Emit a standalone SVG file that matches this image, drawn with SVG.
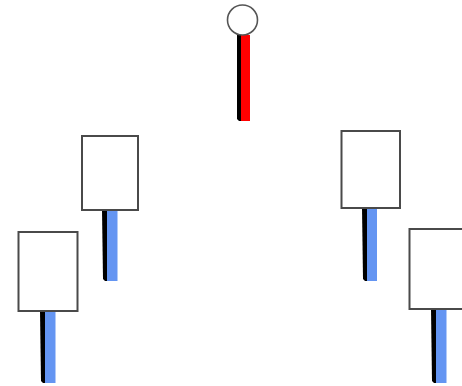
<svg xmlns="http://www.w3.org/2000/svg" width="462" height="386" viewBox="0 0 462 386">
<style>
.box{fill:#ffffff;stroke:#4a4a4a;stroke-width:2}
.side{fill:#000000}
.blue{fill:#6495f2}
.red{fill:#ff0000}
.circ{fill:#ffffff;stroke:#555555;stroke-width:1.6}
</style>
<rect width="462" height="386" fill="#ffffff"/>
<g id="connectors"></g>
<g id="root">
<path class="side" d="M237,35 L241,35 L241,121 L239,121 L237,119 Z"/>
<rect class="red" x="241" y="35" width="9" height="86"/>
<circle class="circ" cx="242.5" cy="20" r="15"/>
</g>
<g id="node-upper-left">
<path class="side" d="M102,210 L107,210 L107,281 L105,281 L103,279 Z"/>
<rect class="blue" x="107" y="210" width="10.5" height="71"/>
<rect class="box" x="82" y="136" width="56" height="74"/>
</g>
<g id="node-lower-left">
<path class="side" d="M40,311 L45,311 L45,383 L43,383 L41,381 Z"/>
<rect class="blue" x="45" y="311" width="10.5" height="72"/>
<rect class="box" x="18.5" y="232" width="59" height="79"/>
</g>
<g id="node-upper-right">
<path class="side" d="M362,208 L367,208 L367,281 L365,281 L363,279 Z"/>
<rect class="blue" x="367" y="208" width="10" height="73"/>
<rect class="box" x="341.5" y="131" width="58.5" height="77"/>
</g>
<g id="node-lower-right">
<path class="side" d="M431,309 L436,309 L436,383 L434,383 L432,381 Z"/>
<rect class="blue" x="436" y="309" width="10.5" height="74"/>
<rect class="box" x="409.5" y="229" width="60" height="80"/>
</g>
</svg>
